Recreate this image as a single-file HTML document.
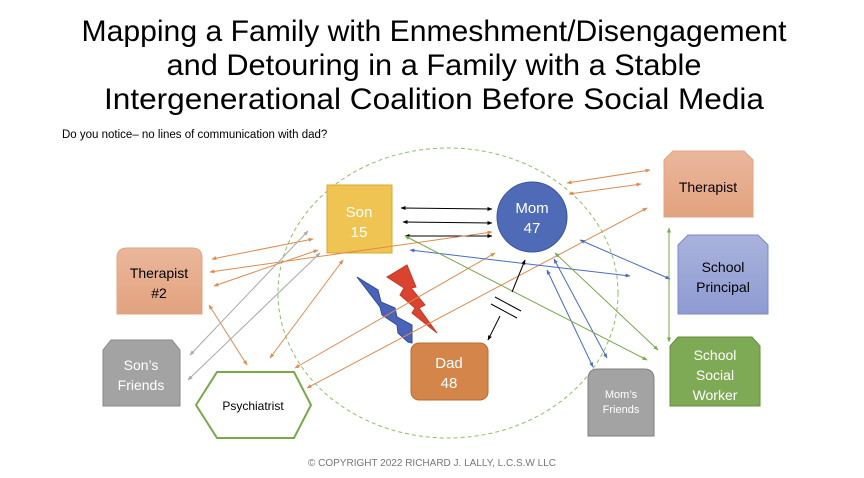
<!DOCTYPE html>
<html><head><meta charset="utf-8"><style>
body{margin:0;background:#fff;width:864px;height:478px;overflow:hidden;font-family:"Liberation Sans",sans-serif}
svg{position:absolute;left:0;top:0}
</style></head><body>
<svg width="864" height="478" viewBox="0 0 864 478">
<defs>
<marker id="a" viewBox="0 0 10 10" refX="9" refY="5" markerWidth="5" markerHeight="5" orient="auto-start-reverse"><path d="M0,1 L10,5 L0,9z" fill="context-stroke"/></marker>
<linearGradient id="g1" x1="0" y1="0" x2="0" y2="1"><stop offset="0" stop-color="#eab79b"/><stop offset="1" stop-color="#e2a27f"/></linearGradient>
<linearGradient id="g2" x1="0" y1="0" x2="0" y2="1"><stop offset="0" stop-color="#a9b3db"/><stop offset="1" stop-color="#8e9bd3"/></linearGradient>
</defs>
<g font-size="30" text-anchor="middle" fill="#000">
<text x="434" y="41" textLength="705" lengthAdjust="spacingAndGlyphs">Mapping a Family with Enmeshment/Disengagement</text>
<text x="434" y="75" textLength="535" lengthAdjust="spacingAndGlyphs">and Detouring in a Family with a Stable</text>
<text x="434" y="109" textLength="660" lengthAdjust="spacingAndGlyphs">Intergenerational Coalition Before Social Media</text>
</g>
<text x="62" y="138" font-size="11.5">Do you notice– no lines of communication with dad?</text>
<text x="432" y="466" font-size="10" fill="#777" text-anchor="middle">© COPYRIGHT 2022 RICHARD J. LALLY, L.C.S.W LLC</text>

<ellipse cx="448" cy="293" rx="170" ry="145" fill="none" stroke="#8fbf6a" stroke-width="1" stroke-dasharray="4,3"/>

<rect x="327" y="185" width="65" height="68" fill="#efc453" stroke="#d9aa33"/>
<text x="359" y="217" font-size="15" fill="#fff" text-anchor="middle">Son</text>
<text x="359" y="237" font-size="15" fill="#fff" text-anchor="middle">15</text>
<circle cx="532" cy="217" r="35" fill="#4f6bb8" stroke="#3b5499"/>
<text x="532" y="213" font-size="15" fill="#fff" text-anchor="middle">Mom</text>
<text x="532" y="233" font-size="15" fill="#fff" text-anchor="middle">47</text>
<rect x="411" y="343" width="77" height="57" rx="8" fill="#d4854a" stroke="#b96c33"/>
<text x="449" y="368" font-size="15" fill="#fff" text-anchor="middle">Dad</text>
<text x="449" y="388" font-size="15" fill="#fff" text-anchor="middle">48</text>
<path d="M117,314 V258 Q117,248 127,248 H192 Q202,248 202,258 V314z" fill="url(#g1)" stroke="#e0a580"/>
<text x="159" y="278" font-size="14" text-anchor="middle">Therapist</text>
<text x="159" y="298" font-size="14" text-anchor="middle">#2</text>
<path d="M103,406 V350 L111,340 H172 L180,350 V406z" fill="#a3a3a3" stroke="#8a8a8a"/>
<text x="141" y="370" font-size="14" fill="#fff" text-anchor="middle">Son’s</text>
<text x="141" y="390" font-size="14" fill="#fff" text-anchor="middle">Friends</text>
<path d="M196,405 L217,372 H294 L311,405 L294,438 H217z" fill="#fff" stroke="#78a84a" stroke-width="2"/>
<text x="253" y="410" font-size="12" text-anchor="middle">Psychiatrist</text>
<path d="M664,217 V160 L673,151 H744 L753,160 V217z" fill="url(#g1)" stroke="#e0a580"/>
<text x="708" y="192" font-size="14" text-anchor="middle">Therapist</text>
<path d="M678,314 V245 L688,235 H758 L768,245 V314z" fill="url(#g2)" stroke="#7b89c8"/>
<text x="723" y="272" font-size="14" text-anchor="middle">School</text>
<text x="723" y="292" font-size="14" text-anchor="middle">Principal</text>
<path d="M670,406 V346 L678,337 H752 L760,346 V406z" fill="#7faa55" stroke="#648f3c"/>
<text x="715" y="360" font-size="14" fill="#fff" text-anchor="middle">School</text>
<text x="715" y="380" font-size="14" fill="#fff" text-anchor="middle">Social</text>
<text x="715" y="400" font-size="14" fill="#fff" text-anchor="middle">Worker</text>
<path d="M588,436 V379 Q588,369 598,369 H644 Q654,369 654,379 V436z" fill="#a3a3a3" stroke="#7f7f7f"/>
<text x="621" y="398" font-size="11" fill="#fff" text-anchor="middle">Mom’s</text>
<text x="621" y="413" font-size="11" fill="#fff" text-anchor="middle">Friends</text>

<path d="M357,277 L378,290 L381,302 L395,308 L397,317 L412,325 L412,343 L408,342 L398,333 L397,325 L382,315 L380,307z" fill="#4a63b8" stroke="#2f4a9c"/>
<path d="M387,277 L407,265 L416,287 L411,288 L425,305 L419,308 L437,333 L412,313 L415,308 L400,295 L404,288z" fill="#d9432f" stroke="#c23a28"/>

<g fill="none" stroke-width="1" marker-start="url(#a)" marker-end="url(#a)">
<g stroke="#000">
<line x1="401" y1="208" x2="492" y2="209"/>
<line x1="403" y1="222" x2="492" y2="223"/>
<line x1="405" y1="236" x2="492" y2="236"/>
</g>
<g stroke="#e08a4e">
<line x1="212" y1="259" x2="313" y2="239"/>
<line x1="210" y1="272" x2="492" y2="232"/>
<line x1="214" y1="286" x2="318" y2="250"/>
<line x1="209" y1="305" x2="247" y2="365"/>
<line x1="270" y1="358" x2="343" y2="260"/>
<line x1="295" y1="368" x2="495" y2="253"/>
<line x1="307" y1="388" x2="647" y2="208"/>
<line x1="567" y1="183" x2="650" y2="170"/>
<line x1="569" y1="194" x2="641" y2="184"/>
</g>
<g stroke="#a8a8a8">
<line x1="190" y1="355" x2="308" y2="231"/>
<line x1="188" y1="380" x2="320" y2="253"/>
</g>
<g stroke="#4a6cc4">
<line x1="410" y1="250" x2="630" y2="276"/>
<line x1="580" y1="240" x2="670" y2="279"/>
<line x1="547" y1="270" x2="593" y2="367"/>
<line x1="554" y1="259" x2="607" y2="358"/>
</g>
<g stroke="#78a84a">
<line x1="405" y1="236" x2="647" y2="360"/>
<line x1="555" y1="253" x2="658" y2="350"/>
<line x1="669" y1="228" x2="669" y2="342"/>
</g>
</g>
<g stroke="#000" stroke-width="1" fill="none">
<line x1="512" y1="292" x2="525" y2="260" marker-end="url(#a)"/>
<line x1="500" y1="316" x2="488" y2="340" marker-end="url(#a)"/>
<line x1="491" y1="304" x2="517" y2="318"/>
<line x1="495" y1="297" x2="521" y2="311"/>
</g>
</svg>
</body></html>
